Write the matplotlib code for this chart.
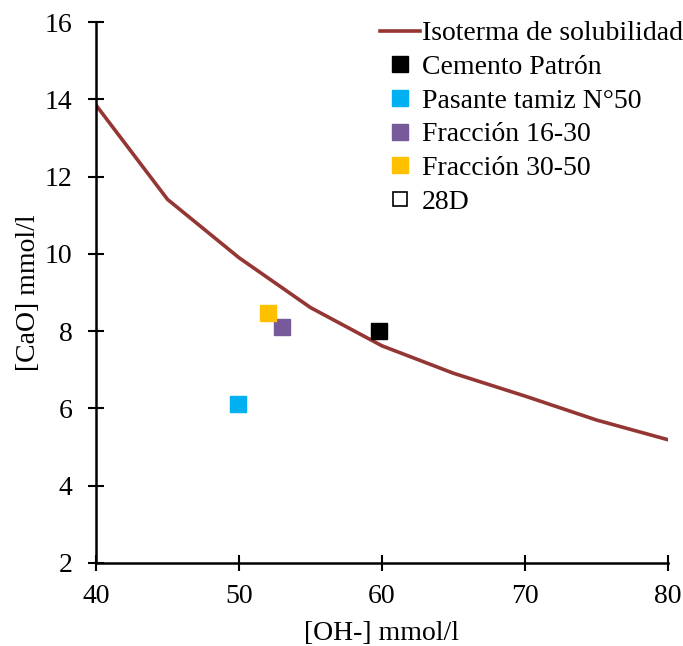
import matplotlib
matplotlib.use("Agg")
import matplotlib.pyplot as plt
from matplotlib.lines import Line2D

plt.rcParams['font.family'] = ['Liberation Serif', 'DejaVu Serif']

# Data
iso_x = [40, 45, 50, 55, 60, 65, 70, 75, 80]
iso_y = [13.85, 11.41, 9.90, 8.61, 7.62, 6.91, 6.32, 5.70, 5.19]

series_names = ["Cemento Patrón", "Pasante tamiz N°50", "Fracción 16-30", "Fracción 30-50"]
series_x = [59.8, 49.9, 53.0, 52.0]
series_y = [8.0, 6.12, 8.12, 8.48]
series_colors = ["#000000", "#00B0F0", "#775A9A", "#FFC000"]

x_ticks = [40, 50, 60, 70, 80]
y_ticks = [2, 4, 6, 8, 10, 12, 14, 16]

fig = plt.figure(figsize=(6.83, 6.46), dpi=100)
ax = fig.add_axes([96/683, 83/646, (668-96)/683, (563-22)/646])

line, = ax.plot(iso_x, iso_y, color="#943634", lw=2.6, label="Isoterma de solubilidad", zorder=2)
handles = [line]
for name, x, y, c in zip(series_names, series_x, series_y, series_colors):
    h, = ax.plot([x], [y], marker='s', ms=12, color=c, mec=c, ls='none', label=name, zorder=3)
    handles.append(h)
h28 = Line2D([], [], marker='s', ms=9.5, mfc='white', mec='black', mew=1.2, ls='none', label="28D")
handles.append(h28)

ax.set_xlim(40, 80)
ax.set_ylim(2, 16)
ax.set_xticks(x_ticks)
ax.set_yticks(y_ticks)
ax.spines['top'].set_visible(False)
ax.spines['right'].set_visible(False)
for s in ['left', 'bottom']:
    ax.spines[s].set_linewidth(1.8)
ax.tick_params(direction='inout', length=12, width=1.5, labelsize=20)
ax.tick_params(axis='x', pad=9)
ax.tick_params(axis='y', pad=11)

ax.set_xlabel("[OH-] mmol/l", fontsize=20, labelpad=9)
ax.set_ylabel("[CaO] mmol/l", fontsize=20, labelpad=2.5)

leg = ax.legend(handles=handles, loc='upper right', bbox_to_anchor=(683/683, 1 - 21/646),
                bbox_transform=fig.transFigure, frameon=False, fontsize=20,
                handlelength=1.44, handletextpad=0.07, labelspacing=0.295, borderpad=0,
                borderaxespad=0)

fig.savefig("out.png", dpi=100)
